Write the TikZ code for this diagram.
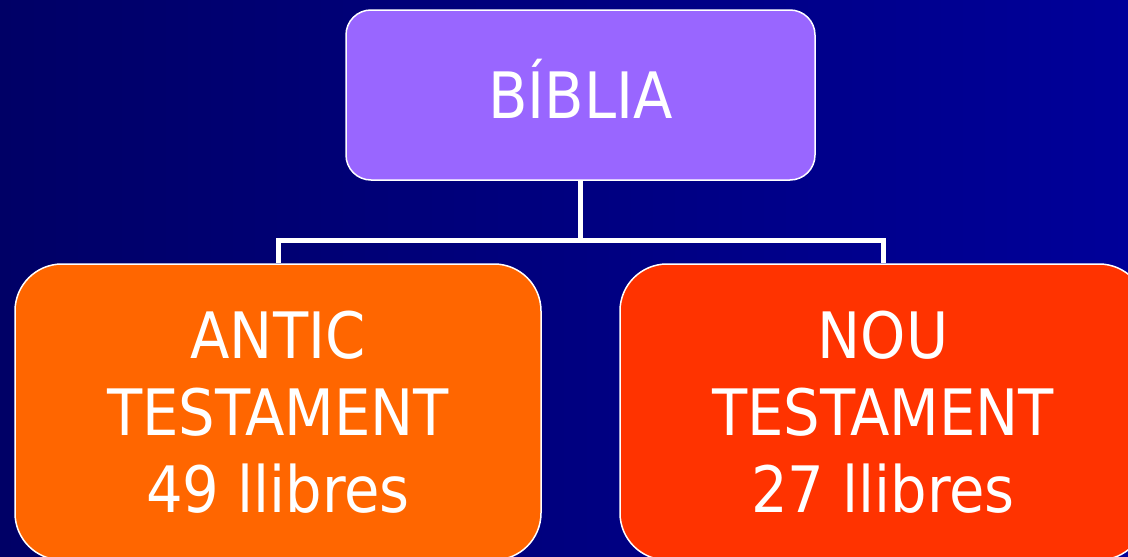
\documentclass[tikz,border=0pt]{standalone}
\usepackage{fontspec}
\setmainfont{DejaVu Sans Condensed}
\definecolor{navyleft}{HTML}{000066}
\definecolor{navyright}{HTML}{000099}
\definecolor{bibliafill}{HTML}{9966FF}
\definecolor{anticfill}{HTML}{FF6600}
\definecolor{noufill}{HTML}{FF3300}
\begin{document}
\begin{tikzpicture}[
    x=1pt, y=1pt,
    block/.style={
        rectangle,
        rounded corners=47pt,
        draw=white,
        line width=1.5pt,
        text=white,
        inner sep=0pt,
        align=center,
        font=\fontsize{64}{77}\selectfont
    },
    link/.style={
        draw=white,
        line width=5pt
    }
]

% Fons
\shade[left color=navyleft, right color=navyright] (0,0) rectangle (1128,-557);
\useasboundingbox (0,0) rectangle (1128,-557);

% Caixes
\node[block, fill=bibliafill, rounded corners=25pt, minimum width=469pt, minimum height=170pt, text height=47pt, text depth=0pt] (biblia) at (580.5,-95) {BÍBLIA};
\node[block, fill=anticfill, minimum width=526pt, minimum height=296pt] (antic) at (278,-412) {ANTIC\\TESTAMENT\\49 llibres};
\node[block, fill=noufill, minimum width=526pt, minimum height=296pt] (nou) at (883,-412) {NOU\\TESTAMENT\\27 llibres};

% Connectors
\draw[link] (biblia.south) -- ++(0,-60) coordinate (fork) -| (antic.north);
\draw[link] (fork) -| (nou.north);

\end{tikzpicture}
\end{document}
